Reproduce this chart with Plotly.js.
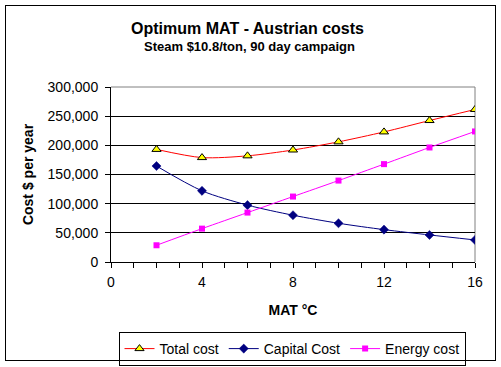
<!DOCTYPE html>
<html>
<head>
<meta charset="utf-8">
<script src="https://cdn.plot.ly/plotly-3.0.1.min.js"></script>
<style>
html,body{margin:0;padding:0;background:#fff;}
#wrap{position:relative;width:501px;height:367px;}
#chart{width:501px;height:367px;}
#frame{position:absolute;left:5px;top:5px;width:489px;height:354px;border:1.5px solid #000;pointer-events:none;}
</style>
</head>
<body>
<div id="wrap"><div id="chart"></div><div id="frame"></div></div>
<script>
const mat = [2, 4, 6, 8, 10, 12, 14, 16];
const totalCost = [193000, 179000, 182000, 192000, 206000, 223000, 242500, 261500];
const capitalCost = [164500, 122000, 97500, 80200, 66400, 55500, 46400, 37800];
const energyCost = [28700, 57200, 84700, 112200, 139600, 167800, 196300, 223800];
const xTickVals = [0, 4, 8, 12, 16];
const xTickText = ['0', '4', '8', '12', '16'];

const font = 'Liberation Sans, Arial, sans-serif';
const W = 501, H = 367;

const traces = [
  {x: mat, y: totalCost, name: 'Total cost', mode: 'lines+markers',
   line: {color: '#FF0000', width: 1, shape: 'spline', smoothing: 0.8},
   marker: {symbol: 'triangle-up', size: 8, color: '#FFFF00', line: {color: '#000', width: 1}}},
  {x: mat, y: capitalCost, name: 'Capital Cost', mode: 'lines+markers',
   line: {color: '#000080', width: 1, shape: 'spline', smoothing: 0.8},
   marker: {symbol: 'diamond', size: 7, color: '#000080', line: {color: '#000080', width: 0.5}}},
  {x: mat, y: energyCost, name: 'Energy cost', mode: 'lines+markers',
   line: {color: '#FF00FF', width: 1, shape: 'spline', smoothing: 0.8},
   marker: {symbol: 'square', size: 6, color: '#FF00FF', line: {width: 0}}}
];

const layout = {
  width: W, height: H,
  margin: {l: 111, r: 26, t: 87, b: 105, autoexpand: false},
  paper_bgcolor: '#fff', plot_bgcolor: '#fff',
  font: {family: font, size: 14, color: '#000'},
  showlegend: true,
  title: {
    text: '<b>Optimum MAT - Austrian costs</b>',
    font: {family: font, size: 16, color: '#000'},
    x: 247.5 / W, xanchor: 'center', xref: 'container',
    y: 1 - 28 / H, yanchor: 'middle', yref: 'container'
  },
  annotations: [
    {text: '<b>Steam $10.8/ton, 90 day campaign</b>', showarrow: false,
     xref: 'paper', yref: 'paper', x: (249 - 111) / 364, xanchor: 'center',
     y: 1 + (87 - 46) / 175, yanchor: 'middle',
     font: {family: font, size: 13, color: '#000'}}
  ],
  xaxis: {
    range: [0, 16], tickvals: xTickVals, ticktext: xTickText,
    showgrid: false, zeroline: false, automargin: false,
    showline: true, linecolor: '#000', linewidth: 1,
    ticks: 'outside', ticklen: 5, tickcolor: '#000', tickwidth: 1,
    ticklabelstandoff: 2,
    minor: {dtick: 1, tick0: 0, ticks: 'outside', ticklen: 5, tickcolor: '#000', tickwidth: 1, showgrid: false},
    tickfont: {family: font, size: 14},
    title: {text: '<b>MAT °C</b>', font: {family: font, size: 14}, standoff: 16}
  },
  yaxis: {
    range: [0, 300000], dtick: 50000, tickformat: ',d',
    showgrid: true, gridcolor: '#000', gridwidth: 1,
    zeroline: false, automargin: false,
    showline: true, linecolor: '#000', linewidth: 1,
    ticks: 'outside', ticklen: 5, tickcolor: '#000', tickwidth: 1,
    ticklabelstandoff: 4,
    tickfont: {family: font, size: 14},
    title: {text: '<b>Cost $ per year</b>', font: {family: font, size: 14}, standoff: 10}
  },
  shapes: [
    {type: 'line', xref: 'paper', yref: 'paper', x0: 0, x1: 1, y0: 1, y1: 1, line: {color: '#808080', width: 1}, layer: 'between'},
    {type: 'line', xref: 'paper', yref: 'paper', x0: 1, x1: 1, y0: 0, y1: 1, line: {color: '#808080', width: 1}, layer: 'between'}
  ],
  legend: {
    orientation: 'h', x: (292 - 111) / 364, xanchor: 'center', y: 1 - 332 / H, yanchor: 'top',
    xref: 'paper', yref: 'container',
    bordercolor: '#000', borderwidth: 1, bgcolor: '#fff',
    font: {family: font, size: 14},
    itemwidth: 30, tracegroupgap: 0
  }
};

Plotly.newPlot('chart', traces, layout, {staticPlot: true, displayModeBar: false});
</script>
</body>
</html>
